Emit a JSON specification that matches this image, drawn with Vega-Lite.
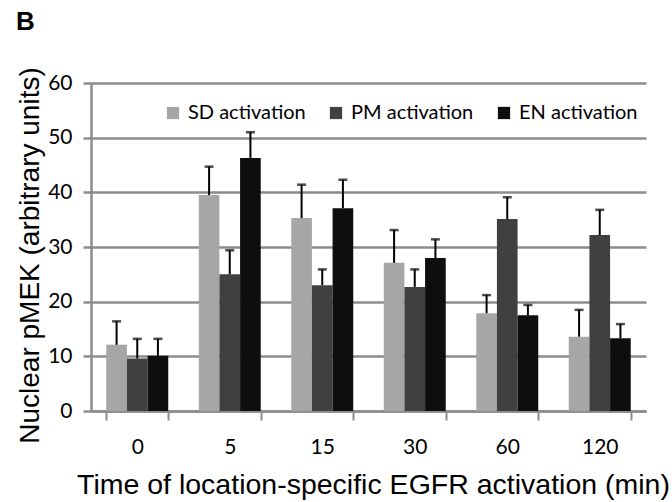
{
  "$schema": "https://vega.github.io/schema/vega-lite/v6.json",
  "width": 555,
  "height": 328,
  "autosize": {"type": "none"},
  "padding": {"left": 91, "top": 83, "right": 26, "bottom": 91},
  "background": "white",
  "title": {"text": "B", "anchor": "start", "frame": "group", "dx": -75, "offset": 32, "fontSize": 26, "fontWeight": "bold", "font": "Liberation Sans", "color": "black"},
  "config": {"view": {"stroke": null}},
  "data": {"values": [
    {"time": "0", "series": "SD activation", "value": 12.1, "err": 16.4},
    {"time": "0", "series": "PM activation", "value": 9.6, "err": 13.2},
    {"time": "0", "series": "EN activation", "value": 10.1, "err": 13.2},
    {"time": "5", "series": "SD activation", "value": 39.5, "err": 44.7},
    {"time": "5", "series": "PM activation", "value": 25.0, "err": 29.4},
    {"time": "5", "series": "EN activation", "value": 46.3, "err": 51.0},
    {"time": "15", "series": "SD activation", "value": 35.3, "err": 41.4},
    {"time": "15", "series": "PM activation", "value": 23.0, "err": 25.9},
    {"time": "15", "series": "EN activation", "value": 37.1, "err": 42.3},
    {"time": "30", "series": "SD activation", "value": 27.1, "err": 33.1},
    {"time": "30", "series": "PM activation", "value": 22.7, "err": 25.9},
    {"time": "30", "series": "EN activation", "value": 28.0, "err": 31.4},
    {"time": "60", "series": "SD activation", "value": 17.9, "err": 21.2},
    {"time": "60", "series": "PM activation", "value": 35.1, "err": 39.1},
    {"time": "60", "series": "EN activation", "value": 17.5, "err": 19.4},
    {"time": "120", "series": "SD activation", "value": 13.6, "err": 18.5},
    {"time": "120", "series": "PM activation", "value": 32.2, "err": 36.8},
    {"time": "120", "series": "EN activation", "value": 13.3, "err": 15.9}
  ]},
  "encoding": {
    "x": {
      "field": "time", "type": "nominal", "sort": ["0", "5", "15", "30", "60", "120"],
      "scale": {"paddingInner": 0.33, "paddingOuter": 0.165},
      "axis": {
        "title": "Time of location-specific EGFR activation (min)",
        "titleFont": "Liberation Sans", "titleFontSize": 28.5, "titleFontWeight": "normal", "titleColor": "black", "titlePadding": 13,
        "titleX": 282, "titleAlign": "center",
        "labelAngle": 0, "labelFont": "Lato", "labelFontSize": 21, "labelColor": "black", "labelPadding": 16,
        "tickBand": "extent", "tickSize": 9, "tickColor": "#8c8c8c", "tickWidth": 2,
        "domainColor": "#8c8c8c", "domainWidth": 2.5, "grid": false
      }
    },
    "xOffset": {"field": "series", "type": "nominal", "sort": ["SD activation", "PM activation", "EN activation"], "scale": {"paddingInner": 0, "paddingOuter": 0}}
  },
  "layer": [
    {
      "mark": {"type": "bar"},
      "encoding": {
        "y": {
          "field": "value", "type": "quantitative",
          "scale": {"domain": [0, 60], "nice": false},
          "axis": {
            "title": "Nuclear pMEK (arbitrary units)",
            "titleFont": "Liberation Sans", "titleFontSize": 28, "titleFontWeight": "normal", "titleColor": "black",
            "titleX": -61, "titleY": 172, "titleBaseline": "middle", "titleAlign": "center",
            "values": [0, 10, 20, 30, 40, 50, 60],
            "labelFont": "Lato", "labelFontSize": 21, "labelColor": "black", "labelPadding": 11,
            "tickSize": 8, "tickColor": "#8c8c8c", "tickWidth": 2.5,
            "domainColor": "#8c8c8c", "domainWidth": 2.5,
            "grid": true, "gridColor": "#8c8c8c", "gridWidth": 2.5
          }
        },
        "color": {
          "field": "series", "type": "nominal", "sort": ["SD activation", "PM activation", "EN activation"],
          "scale": {"domain": ["SD activation", "PM activation", "EN activation"], "range": ["#a6a6a6", "#404040", "#0e0e0e"]},
          "legend": {
            "title": null, "orient": "none", "legendX": 72, "legendY": 20, "direction": "horizontal", "columns": 3,
            "symbolType": "square", "symbolSize": 150, "symbolStrokeWidth": 0, "symbolOpacity": 1,
            "labelFont": "Lato", "labelFontSize": 20, "labelColor": "black", "labelOffset": 5,
            "columnPadding": 20, "labelLimit": 300
          }
        }
      }
    },
    {
      "mark": {"type": "rule", "color": "black", "strokeWidth": 2},
      "encoding": {"y": {"field": "value", "type": "quantitative"}, "y2": {"field": "err"}}
    },
    {
      "mark": {"type": "tick", "color": "black", "thickness": 2.5, "size": 9},
      "encoding": {"y": {"field": "err", "type": "quantitative"}}
    }
  ]
}
